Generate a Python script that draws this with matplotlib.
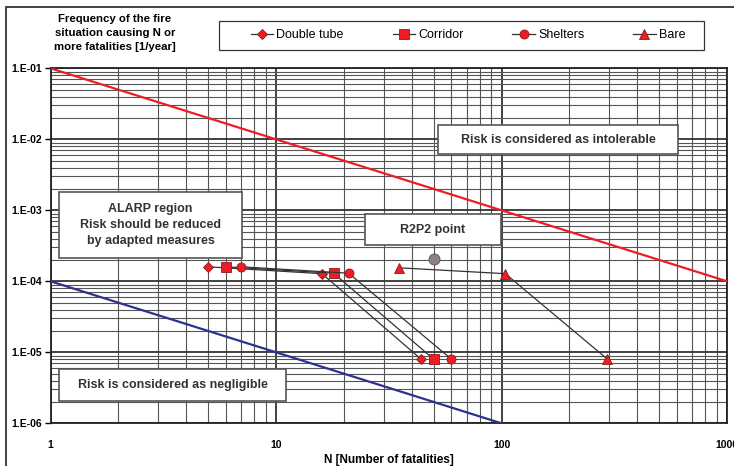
import math
import matplotlib
matplotlib.use('Agg')
import matplotlib.pyplot as plt
import matplotlib.ticker as mticker
from matplotlib.patches import Rectangle

plt.rcParams.update({
    'font.family': ['Liberation Sans Narrow', 'Liberation Sans', 'DejaVu Sans'],
    'font.size': 7,
})

# --- data ---
limit_n = [1, 1000]
limit_upper = [1e-1, 1e-4]          # intolerable limit
neg_n = [1, 100]
neg_lower = [1e-4, 1e-6]            # negligible limit

double_n = [5, 16, 44]
double_f = [1.6e-4, 1.28e-4, 8e-6]
corridor_n = [6, 18, 50]
corridor_f = [1.6e-4, 1.3e-4, 8e-6]
shelter_n = [7, 21, 60]
shelter_f = [1.6e-4, 1.3e-4, 8e-6]
bare_n = [35, 104, 295]
bare_f = [1.55e-4, 1.28e-4, 8e-6]
r2p2_n = [50]
r2p2_f = [2.05e-4]

series = [
    ('Double tube', double_n, double_f, 'D', 5.5),
    ('Corridor', corridor_n, corridor_f, 's', 6.5),
    ('Shelters', shelter_n, shelter_f, 'o', 6.5),
    ('Bare', bare_n, bare_f, '^', 6.5),
]

W, H = 734, 466
fig = plt.figure(figsize=(W / 100, H / 100), dpi=100)
ax = fig.add_axes([50.5 / W, 1 - 423.3 / H, 676.5 / W, 355 / H])

# outer frame of the original figure
fig.patches.append(Rectangle((6 / W, -0.1), 1.2, 1 - 7 / H + 0.1, transform=fig.transFigure,
                             fill=False, edgecolor='#333333', linewidth=1.3, zorder=0))

ax.set_xscale('log')
ax.set_yscale('log')
ax.set_xlim(1, 1000)
ax.set_ylim(1e-6, 1e-1)

ax.grid(True, which='major', color='#333333', linewidth=1.3)
ax.grid(True, which='minor', color='#555555', linewidth=0.8)
ax.set_axisbelow(True)

ax.plot(limit_n, limit_upper, color='#ee1c25', linewidth=1.6, zorder=3)
ax.plot(neg_n, neg_lower, color='#2e3192', linewidth=1.6, zorder=3)

for name, xs, ys, mk, ms in series:
    ax.plot(xs, ys, color='#333333', linewidth=0.9, marker=mk, markersize=ms,
            markerfacecolor='#ee1c25', markeredgecolor='#8b1a1a', markeredgewidth=0.6,
            label=name, zorder=4)
ax.plot(r2p2_n, r2p2_f, linestyle='none', marker='o', markersize=8,
        markerfacecolor='#8c827d', markeredgecolor='#5a5a5a', markeredgewidth=0.6, zorder=4)

ax.xaxis.set_major_locator(mticker.LogLocator(base=10))
ax.xaxis.set_minor_locator(mticker.LogLocator(base=10, subs=range(2, 10)))
ax.yaxis.set_major_locator(mticker.LogLocator(base=10))
ax.yaxis.set_minor_locator(mticker.LogLocator(base=10, subs=range(2, 10)))
ax.xaxis.set_major_formatter(mticker.FuncFormatter(lambda v, _: f'{v:g}'))
ax.yaxis.set_major_formatter(mticker.FuncFormatter(
    lambda v, _: '1.E-%02d' % round(-math.log10(v))))
ax.xaxis.set_minor_formatter(mticker.NullFormatter())
ax.yaxis.set_minor_formatter(mticker.NullFormatter())
ax.tick_params(which='minor', length=0)
ax.tick_params(axis='x', which='major', length=0, pad=12, labelsize=7.5)
ax.tick_params(axis='y', which='major', length=4, width=1, pad=2, labelsize=7.5)
for lab in ax.get_xticklabels() + ax.get_yticklabels():
    lab.set_fontweight('bold')
for sp in ax.spines.values():
    sp.set_linewidth(1.3)
    sp.set_color('#222222')

ax.set_xlabel('N [Number of fatalities]', fontsize=8.5, fontweight='bold', labelpad=3)
fig.text(115 / W, 1 - 33 / H, 'Frequency of the fire\nsituation causing N or\nmore fatalities [1/year]',
         ha='center', va='center', fontsize=8.2, fontweight='bold', linespacing=1.55)

# annotation boxes (axes fraction)
boxes = [
    (0.5728, 0.7578, 0.3548, 0.0825, 'Risk is considered as intolerable'),
    (0.0126, 0.4665, 0.2705, 0.1859, 'ALARP region\nRisk should be reduced\nby adapted measures'),
    (0.4649, 0.5022, 0.2010, 0.0865, 'R2P2 point'),
    (0.0130, 0.0637, 0.3351, 0.0884, 'Risk is considered as negligible'),
]
for x0, y0, w, h, txt in boxes:
    ax.add_patch(Rectangle((x0, y0), w, h, transform=ax.transAxes, facecolor='white',
                           edgecolor='#555555', linewidth=1.2, zorder=5))
    ax.text(x0 + w / 2, y0 + h / 2, txt, transform=ax.transAxes, ha='center', va='center',
            fontsize=9, fontweight='bold', color='#333333', linespacing=1.45, zorder=6)

# legend: frame drawn separately to match the wide box of the original
fig.patches.append(Rectangle((219 / W, 1 - 50 / H), 485 / W, 29 / H, transform=fig.transFigure,
                             facecolor='white', edgecolor='#333333', linewidth=0.9, zorder=1))
leg = fig.legend(loc='center', bbox_to_anchor=(468 / W, 1 - 35.5 / H), ncol=4, fontsize=9,
                 frameon=False, handlelength=1.8, handletextpad=0.25, columnspacing=3.9,
                 borderpad=0)
leg.set_zorder(2)

fig.savefig('out.png', dpi=100)
